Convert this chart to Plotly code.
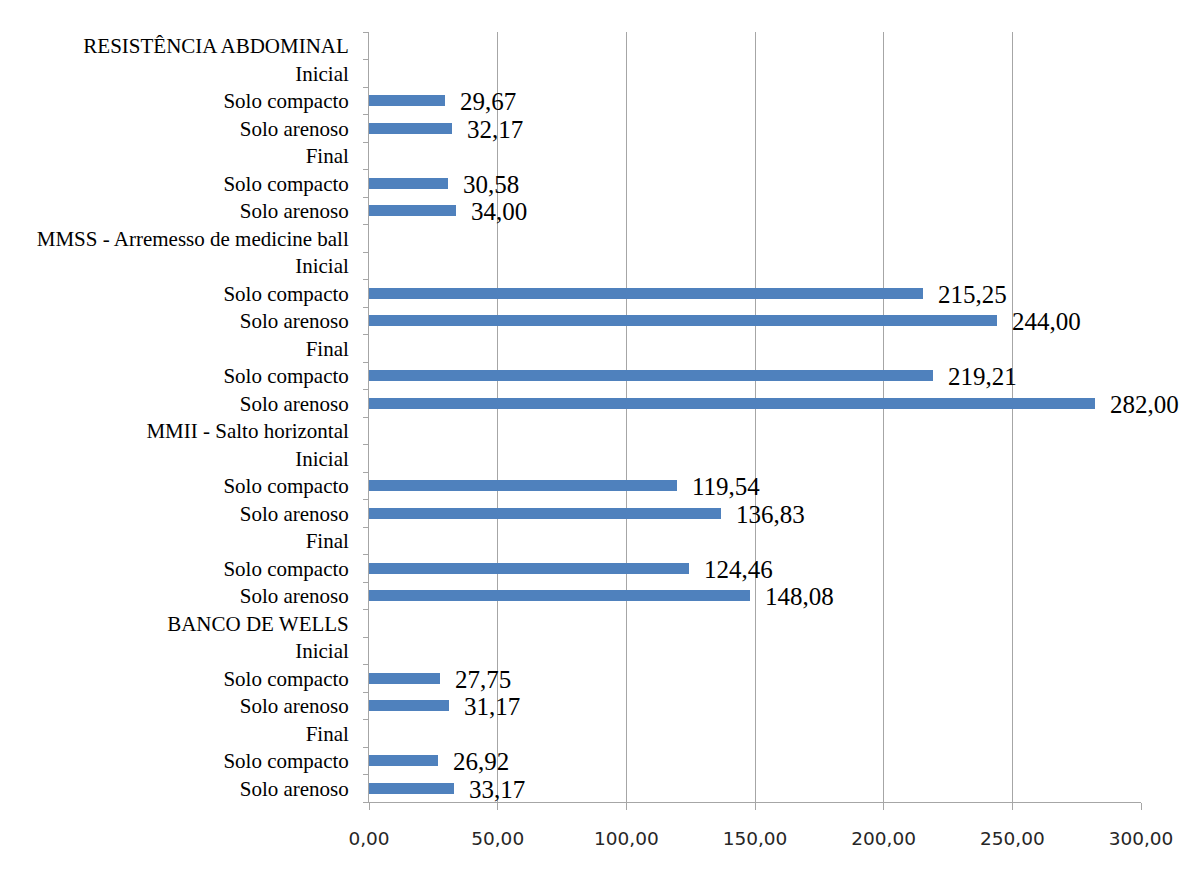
import plotly.graph_objects as go

categories = [
    "RESISTÊNCIA ABDOMINAL", "Inicial", "Solo compacto", "Solo arenoso",
    "Final", "Solo compacto", "Solo arenoso",
    "MMSS - Arremesso de medicine ball", "Inicial", "Solo compacto", "Solo arenoso",
    "Final", "Solo compacto", "Solo arenoso",
    "MMII - Salto horizontal", "Inicial", "Solo compacto", "Solo arenoso",
    "Final", "Solo compacto", "Solo arenoso",
    "BANCO DE WELLS", "Inicial", "Solo compacto", "Solo arenoso",
    "Final", "Solo compacto", "Solo arenoso",
]
values = [
    None, None, 29.67, 32.17, None, 30.58, 34.00,
    None, None, 215.25, 244.00, None, 219.21, 282.00,
    None, None, 119.54, 136.83, None, 124.46, 148.08,
    None, None, 27.75, 31.17, None, 26.92, 33.17,
]
x_ticks = [0, 50, 100, 150, 200, 250, 300]

n = len(categories)
pos = list(range(n))
boundaries = [i - 0.5 for i in range(n + 1)]

fig = go.Figure()
fig.add_trace(go.Bar(
    x=values, y=pos, orientation="h", width=0.4,
    marker=dict(color="#4F81BD", line=dict(width=0)),
    hoverinfo="skip", showlegend=False,
))

for p, v in zip(pos, values):
    if v is None:
        continue
    fig.add_annotation(
        x=v, y=p, xref="x", yref="y",
        text=f"{v:.2f}".replace(".", ","),
        showarrow=False, xanchor="left", yanchor="middle", xshift=13, yshift=-1,
        font=dict(family="Liberation Serif", size=25, color="#000000"),
    )

grid_col = "#A6A6A6"
fig.update_layout(
    width=1192, height=869,
    margin=dict(l=369, r=51, t=32, b=67),
    paper_bgcolor="white", plot_bgcolor="white",
    separators=", ",
    bargap=0,
    xaxis=dict(
        range=[0, 300], tickvals=x_ticks, tickformat=".2f",
        showgrid=True, gridcolor=grid_col, gridwidth=1,
        showline=True, linecolor=grid_col, linewidth=1,
        ticks="outside", ticklen=7, tickcolor=grid_col,
        ticklabelstandoff=13,
        tickfont=dict(family="DejaVu Sans", size=18.5, color="#262626"),
        zeroline=False, fixedrange=True,
    ),
    yaxis=dict(
        range=[n - 0.5, -0.5], tickvals=pos, ticktext=categories,
        ticks="", showgrid=False, zeroline=False,
        showline=True, linecolor=grid_col, linewidth=1,
        ticklabelstandoff=15,
        tickfont=dict(family="Liberation Serif", size=21, color="#000000"),
    ),
    yaxis2=dict(
        overlaying="y", side="left", range=[n - 0.5, -0.5],
        tickvals=boundaries, ticks="outside", ticklen=5, tickcolor=grid_col,
        showticklabels=False, showgrid=False, zeroline=False, showline=False,
    ),
)
fig.add_trace(go.Scatter(x=[None], y=[None], yaxis="y2", showlegend=False, hoverinfo="skip"))

fig.write_html("out.html")
